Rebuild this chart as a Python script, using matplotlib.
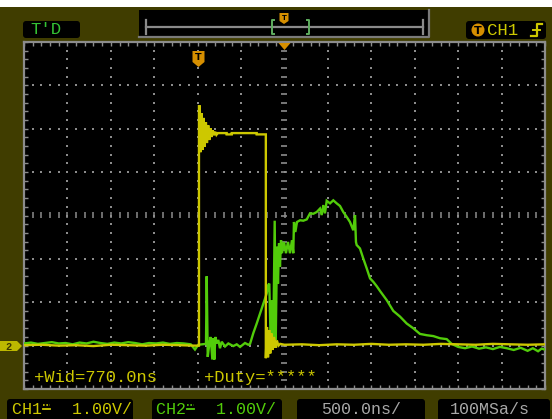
import matplotlib
matplotlib.use("Agg")
import matplotlib.pyplot as plt
from matplotlib.patches import Rectangle, FancyBboxPatch, Polygon, Circle
import numpy as np

W, H = 552, 419

# ---- scope settings -------------------------------------------------------
TIME_PER_DIV_NS = 500.0
VOLTS_PER_DIV = 1.00
SAMPLE_RATE = "100MSa/s"
H_DIVS, V_DIVS = 12, 8
GROUND_DIV = -3            # ground reference of both channels, divisions from centre
PULSE_WIDTH_NS = 770.0     # measured positive width of CH1
RISE_T = -0.985            # CH1 rising edge (us)
FALL_T = RISE_T + PULSE_WIDTH_NS / 1000.0

# ---- CH1 trace (time in us, volts) ---------------------------------------
ch1_t = [-3.00, -2.80, -2.60, -2.40, -2.20, -2.00, -1.80, -1.60, -1.40, -1.20, -1.05,
         RISE_T, RISE_T, -0.976, -0.966, -0.955, -0.944, -0.931, -0.920, -0.905, -0.893,
         -0.878, -0.866, -0.852, -0.840, -0.826, -0.812, -0.798, -0.784, -0.770, -0.760,
         -0.666, -0.666, -0.608, -0.608, -0.320, -0.320,
         FALL_T, FALL_T, -0.202, -0.190, -0.176, -0.164, -0.150, -0.136, -0.120, -0.104,
         -0.088, -0.070, -0.050, 0.00, 0.20, 0.40, 0.60, 0.80, 1.00, 1.20, 1.40, 1.60,
         1.80, 2.00, 2.20, 2.40, 2.60, 2.80, 3.00]
ch1_v = [0.01, 0.02, 0.00, 0.01, -0.01, 0.02, 0.01, 0.00, 0.02, 0.01, 0.00,
         0.00, 5.52, 5.52, 4.46, 5.36, 4.51, 5.25, 4.58, 5.15, 4.67,
         5.08, 4.74, 5.01, 4.81, 4.96, 4.85, 4.93, 4.86, 4.90, 4.90,
         4.90, 4.87, 4.87, 4.90, 4.90, 4.87,
         4.87, -0.29, 0.43, -0.27, 0.36, -0.18, 0.28, -0.10, 0.20, -0.05,
         0.12, 0.00, 0.04, 0.02, 0.03, 0.01, 0.03, 0.02, 0.04, 0.02, 0.03, 0.02,
         0.04, 0.03, 0.02, 0.04, 0.03, 0.02, 0.03]

# ---- CH2 trace (time in us, volts) ---------------------------------------
ch2_t = [-3.00, -2.92, -2.84, -2.76, -2.68, -2.60, -2.52, -2.44, -2.36, -2.28, -2.20,
         -2.12, -2.04, -1.96, -1.88, -1.80, -1.72, -1.64, -1.56, -1.48, -1.40, -1.32,
         -1.24, -1.16, -1.08, -1.031, -0.993, -0.904, -0.896, -0.884, -0.866, -0.850,
         -0.831, -0.820, -0.808, -0.797, -0.781, -0.762, -0.743, -0.723, -0.685, -0.647,
         -0.590, -0.550, -0.512, -0.455, -0.417, -0.397, -0.359, -0.320, -0.282, -0.244,
         -0.205, -0.187, -0.175, -0.159, -0.144, -0.129, -0.113, -0.101, -0.086, -0.075,
         -0.063, -0.052, -0.040, -0.029, -0.006, 0.017, 0.040, 0.063, 0.086, 0.101,
         0.109, 0.125, 0.144, 0.179, 0.217, 0.256, 0.294, 0.332, 0.371, 0.409, 0.428,
         0.447, 0.466, 0.486, 0.524, 0.562, 0.601, 0.639, 0.677, 0.716, 0.754, 0.792,
         0.812, 0.823, 0.831, 0.869, 0.907, 0.947, 0.985, 1.023, 1.062, 1.100, 1.177,
         1.253, 1.330, 1.407, 1.483, 1.560, 1.638, 1.714, 1.791, 1.868, 1.925, 2.00,
         2.08, 2.16, 2.24, 2.32, 2.40, 2.48, 2.56, 2.64, 2.72, 2.80, 2.86, 2.92, 2.96,
         3.00]
ch2_v = [0.05, 0.07, 0.04, 0.06, 0.08, 0.05, 0.06, 0.03, 0.07, 0.05, 0.09,
         0.06, 0.04, 0.07, 0.05, 0.08, 0.06, 0.03, 0.06, 0.05, 0.07, 0.04,
         0.06, 0.05, 0.03, -0.09, 0.02, 0.04, 1.60, -0.26, 0.04, 0.20,
         -0.32, 0.17, -0.32, 0.20, 0.05, 0.13, -0.06, 0.09, -0.02, 0.05,
         -0.01, 0.03, -0.03, 0.06, 0.02, 0.04, 0.29, 0.51, 0.74, 0.97,
         1.20, 1.40, 1.43, 0.05, 1.05, 0.13, 2.88, 0.13, 2.28, 1.43,
         2.36, 1.82, 2.43, 2.13, 2.39, 2.13, 2.39, 2.13, 2.43, 2.13,
         2.85, 2.62, 2.85, 2.89, 2.88, 2.91, 3.05, 3.04, 3.08, 3.16, 3.01,
         3.24, 3.05, 3.34, 3.28, 3.35, 3.28, 3.22, 3.08, 2.97, 2.85, 2.66,
         3.01, 2.39, 2.32, 2.24, 2.01, 1.78, 1.55, 1.47, 1.37, 1.26, 1.05,
         0.80, 0.67, 0.51, 0.40, 0.27, 0.24, 0.22, 0.17, 0.15, 0.04, -0.03,
         -0.06, -0.02, -0.07, -0.04, -0.08, -0.03, -0.06, -0.10, -0.05, -0.12, -0.06, -0.13, -0.07,
         -0.09]

# ---- colours -------------------------------------------------------------
OLIVE = "#403d00"
YELLOW = "#cdc800"
GREEN = "#52cc0a"
GRID = "#8c8c8c"
ORANGE = "#d68f00"
GREY_TXT = "#a8a8a8"
MONO = "Liberation Mono"

fig = plt.figure(figsize=(W / 100, H / 100), dpi=100, facecolor=OLIVE)

# background / frame layer in pixel coordinates
bg = fig.add_axes([0, 0, 1, 1], zorder=0)
bg.set_xlim(0, W)
bg.set_ylim(H, 0)
bg.axis("off")
bg.add_patch(Rectangle((0, 0), W, 7, color="white", lw=0))


def black_box(ax, x0, y0, x1, y1, r=3):
    ax.add_patch(FancyBboxPatch((x0, y0), x1 - x0, y1 - y0,
                                boxstyle=f"round,pad=0,rounding_size={r}",
                                fc="black", ec="none"))


# ---- screen (grid) -------------------------------------------------------
gx0, gx1, gy0, gy1 = 24, 545, 42, 389
ax = fig.add_axes([gx0 / W, (H - gy1) / H, (gx1 - gx0) / W, (gy1 - gy0) / H], zorder=1)
ax.set_facecolor("black")
half_t = H_DIVS / 2 * TIME_PER_DIV_NS / 1000.0
vmin = (-V_DIVS / 2 - GROUND_DIV) * VOLTS_PER_DIV
vmax = (V_DIVS / 2 - GROUND_DIV) * VOLTS_PER_DIV
ax.set_xlim(-half_t, half_t)
ax.set_ylim(vmin, vmax)
for s in ax.spines.values():
    s.set_color(GRID)
    s.set_linewidth(1.6)
dt_minor = TIME_PER_DIV_NS / 1000.0 / 5
dv_minor = VOLTS_PER_DIV / 5
ax.set_xticks(np.arange(-half_t, half_t + 1e-9, dt_minor))
ax.set_yticks(np.arange(vmin, vmax + 1e-9, dv_minor))
ax.tick_params(direction="in", length=3, width=1, color=GRID,
               top=True, right=True, labelbottom=False, labelleft=False)

t_major = np.arange(-half_t, half_t + 1e-9, TIME_PER_DIV_NS / 1000.0)
v_major = np.arange(vmin, vmax + 1e-9, VOLTS_PER_DIV)
t_minor = np.arange(-half_t, half_t + 1e-9, dt_minor)
v_minor = np.arange(vmin, vmax + 1e-9, dv_minor)
v_center = (vmin + vmax) / 2

px, py = [], []
for tm in t_major[1:-1]:
    if abs(tm) < 1e-9:
        continue
    px += [tm] * len(v_minor[1:-1])
    py += list(v_minor[1:-1])
for vm in v_major[1:-1]:
    if abs(vm - v_center) < 1e-9:
        continue
    px += list(t_minor[1:-1])
    py += [vm] * len(t_minor[1:-1])
ax.scatter(px, py, s=1.6, marker="s", c=GRID, lw=0, zorder=1)
# centre axes with small cross ticks
ax.scatter([0] * len(v_minor[1:-1]), v_minor[1:-1], marker="_", s=18, c=GRID, lw=1.2, zorder=1)
ax.scatter(t_minor[1:-1], [v_center] * len(t_minor[1:-1]), marker="|", s=16, c=GRID, lw=1.1, zorder=1)

ax.plot(ch2_t, ch2_v, color=GREEN, lw=1.7, zorder=3, solid_joinstyle="miter")
ax.plot(ch1_t, ch1_v, color=YELLOW, lw=1.7, zorder=4, solid_joinstyle="miter")

# ---- overlay layer -------------------------------------------------------
fg = fig.add_axes([0, 0, 1, 1], zorder=2)
fg.set_xlim(0, W)
fg.set_ylim(H, 0)
fg.axis("off")
fg.patch.set_alpha(0)

# top-left mode box
black_box(fg, 23, 21, 80, 38)
fg.text(30, 30, "T'D", color="#34c234", fontsize=12.5, family=MONO, va="center", ha="left")

# memory/position bar
fg.add_patch(Rectangle((139, 10), 290, 27, fc="black", ec="none"))
fg.plot([139, 429, 429], [37, 37, 10], color="#7a7a7a", lw=1.6)
fg.plot([146, 423], [27, 27], color="#8a8a8a", lw=1.6)
fg.plot([146, 146], [20, 34], color="#8a8a8a", lw=1.6)
fg.plot([423, 423], [20, 34], color="#8a8a8a", lw=1.6)
fg.plot([274, 272, 272, 274], [20, 20, 34, 34], color="#5fae5f", lw=1.4)
fg.plot([307, 309, 309, 307], [20, 20, 34, 34], color="#5fae5f", lw=1.4)


def t_marker(x, ytop, w, h, tip):
    fg.add_patch(Polygon([(x - w / 2, ytop), (x + w / 2, ytop), (x + w / 2, ytop + h),
                          (x, ytop + h + tip), (x - w / 2, ytop + h)],
                         closed=True, fc=ORANGE, ec="none"))
    fg.text(x, ytop + h / 2 + 0.5, "T", color="black", fontsize=h * 0.62,
            family="DejaVu Sans", weight="bold", ha="center", va="center")


t_marker(284, 13, 9, 8, 3)
t_marker(198.5, 51, 12, 11, 5)

# trigger position arrow on top edge
fg.add_patch(Polygon([(278.5, 43), (290.5, 43), (284.5, 50)], closed=True, fc=ORANGE, ec="none"))

# top-right trigger source box
black_box(fg, 466, 21, 546, 39)
fg.add_patch(Circle((478, 30), 6.5, fc=ORANGE, ec="none"))
fg.text(478, 30.5, "T", color="black", fontsize=8, family="DejaVu Sans", weight="bold",
        ha="center", va="center")
fg.text(487, 30.5, "CH1", color=YELLOW, fontsize=12.5, family=MONO, ha="left", va="center")
fg.plot([531, 536.5, 536.5, 542], [36, 36, 24, 24], color=YELLOW, lw=1.6)
fg.plot([533, 540], [30, 30], color=YELLOW, lw=1.4)

# channel ground marker
fg.add_patch(Polygon([(0, 341), (17, 341), (22, 346), (17, 351), (0, 351)],
                     closed=True, fc="#bdb800", ec="none"))
fg.text(9, 346.5, "2", color="#3a3600", fontsize=7.5, family=MONO, weight="bold",
        ha="center", va="center")

# measurement readouts
fg.text(34, 377, f"+Wid={PULSE_WIDTH_NS:.1f}ns", color=YELLOW, fontsize=12.3,
        family=MONO, ha="left", va="center")
fg.text(204, 377, "+Duty=*****", color=YELLOW, fontsize=12.3,
        family=MONO, ha="left", va="center")

# bottom status bar
black_box(fg, 7, 399, 133, 426)
black_box(fg, 152, 399, 282, 426)
black_box(fg, 297, 399, 425, 426)
black_box(fg, 438, 399, 550, 426)


def channel_label(x0, name, color):
    fg.text(x0, 409.5, f"{name}   {VOLTS_PER_DIV:.2f}V/", color=color, fontsize=12,
            family=MONO, ha="left", va="center")
    sx = x0 + 3 * 10.0
    fg.plot([sx + 1, sx + 8], [405, 405], color=color, lw=1.2, ls=(0, (1, 1)))
    fg.plot([sx + 1, sx + 8], [408.5, 408.5], color=color, lw=1.3)


channel_label(12, "CH1", YELLOW)
channel_label(156, "CH2", GREEN)
fg.text(361, 409.5, f"{TIME_PER_DIV_NS:.1f}ns/", color=GREY_TXT, fontsize=12,
        family=MONO, ha="center", va="center")
fg.text(490, 409.5, SAMPLE_RATE, color=GREY_TXT, fontsize=12,
        family=MONO, ha="center", va="center")

fig.savefig("out.png", dpi=100, facecolor=OLIVE)
